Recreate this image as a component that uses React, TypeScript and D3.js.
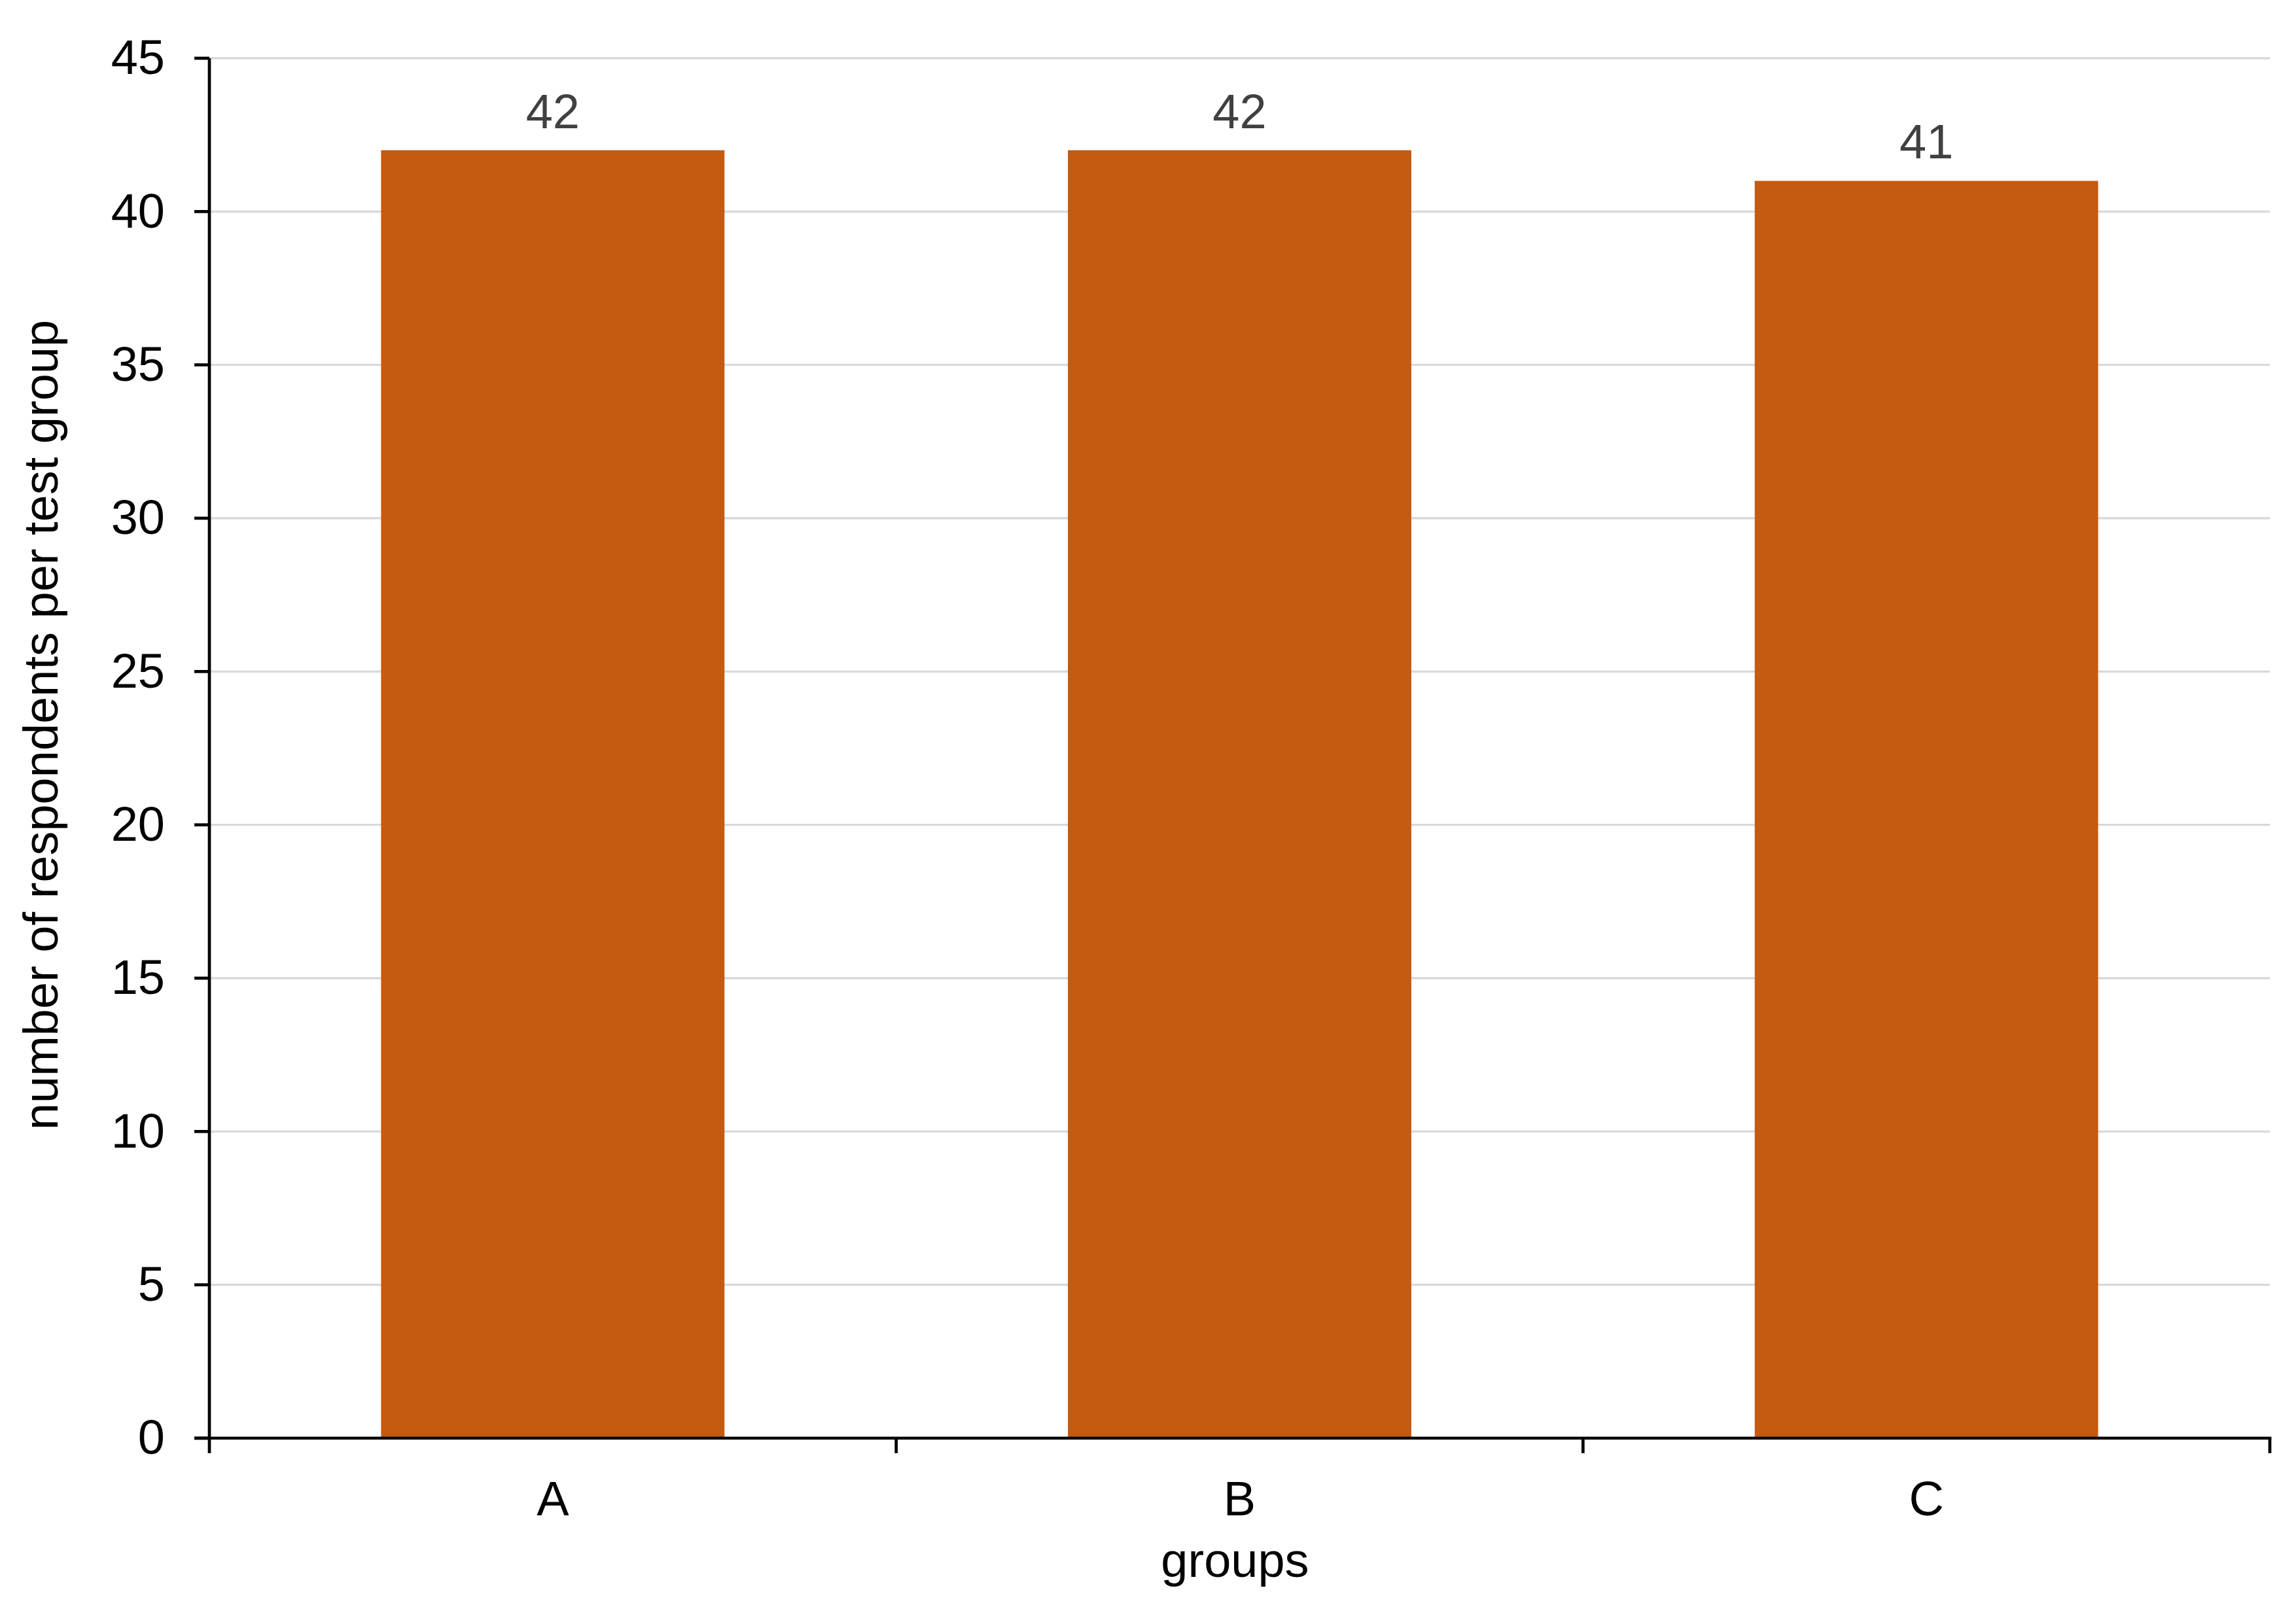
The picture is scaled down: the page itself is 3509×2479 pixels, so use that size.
import React from "react";
import * as d3 from "d3";

const categories = ["A", "B", "C"];
const values = [42, 42, 41];
const yTicks = [0, 5, 10, 15, 20, 25, 30, 35, 40, 45];
const xTitle = "groups";
const yTitle = "number of respondents per test group";

const W = 3509;
const H = 2479;
const left = 320;
const right = 3469;
const top = 89;
const bottom = 2198;
const FONT = "'Liberation Sans', Arial, sans-serif";
const FS = 74;

export default function App() {
  const x = d3.scaleBand<string>().domain(categories).range([left, right]).paddingInner(0.5).paddingOuter(0.25);
  const y = d3.scaleLinear().domain([0, 45]).range([bottom, top]);
  const boundaries = d3.range(categories.length + 1).map((i) => left + (i * (right - left)) / categories.length);

  return (
    <svg width={W} height={H} style={{ position: "absolute", left: 0, top: 0, background: "#fff" }} fontFamily={FONT}>
      <rect x={0} y={0} width={W} height={H} fill="#fff" />
      {yTicks.filter((t) => t !== 0).map((t) => (
        <line key={"g" + t} x1={left} x2={right} y1={y(t)} y2={y(t)} stroke="#D9D9D9" strokeWidth={3.3} />
      ))}
      {categories.map((c, i) => (
        <rect key={c} x={x(c)} y={y(values[i])} width={x.bandwidth()} height={y(0) - y(values[i])} fill="#C55A11" />
      ))}
      {categories.map((c, i) => (
        <text key={"v" + c} x={x(c)! + x.bandwidth() / 2} y={y(values[i]) - 34} textAnchor="middle" fontSize={FS} fill="#404040">
          {values[i]}
        </text>
      ))}
      {/* y axis */}
      <line x1={left} x2={left} y1={top} y2={bottom} stroke="#000" strokeWidth={4.7} />
      {yTicks.map((t) => (
        <g key={"yt" + t}>
          <line x1={left - 23} x2={left} y1={y(t)} y2={y(t)} stroke="#000" strokeWidth={4.7} />
          <text x={252} y={y(t)} dy="0.33em" textAnchor="end" fontSize={FS} fill="#000">
            {t}
          </text>
        </g>
      ))}
      {/* x axis */}
      <line x1={left - 23} x2={right + 2.35} y1={bottom} y2={bottom} stroke="#000" strokeWidth={4.7} />
      {boundaries.map((b, i) => (
        <line key={"xt" + i} x1={b} x2={b} y1={bottom} y2={bottom + 23} stroke="#000" strokeWidth={4.7} />
      ))}
      {categories.map((c) => (
        <text key={"xl" + c} x={x(c)! + x.bandwidth() / 2} y={2316} textAnchor="middle" fontSize={FS} fill="#000">
          {c}
        </text>
      ))}
      <text x={(left + right) / 2 - 7} y={2410} textAnchor="middle" fontSize={FS} fill="#000">
        {xTitle}
      </text>
      <text transform={`translate(88, 1108) rotate(-90)`} textAnchor="middle" fontSize={FS} fill="#000">
        {yTitle}
      </text>
    </svg>
  );
}
